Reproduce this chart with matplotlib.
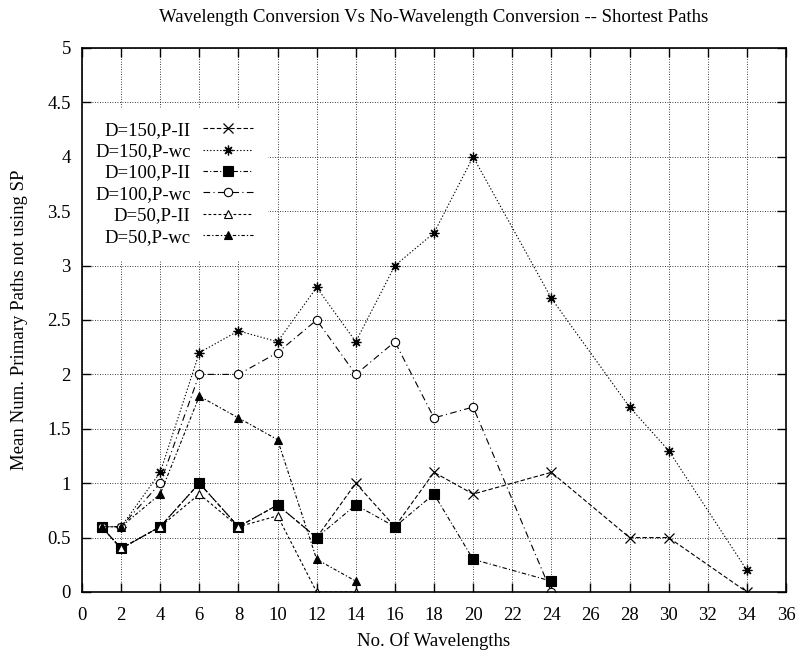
import matplotlib
matplotlib.use("Agg")
import matplotlib.pyplot as plt

plt.rcParams["font.family"] = ["Liberation Serif", "DejaVu Serif"]

# number of wavelengths per series
x_150 = [1, 2, 4, 6, 8, 10, 12, 14, 16, 18, 20, 24, 28, 30, 34]
x_100 = [1, 2, 4, 6, 8, 10, 12, 14, 16, 18, 20, 24]
x_50 = [1, 2, 4, 6, 8, 10, 12, 14]

# mean number of primary paths not using the shortest path
d150_pii = [0.6, 0.4, 0.6, 1.0, 0.6, 0.8, 0.5, 1.0, 0.6, 1.1, 0.9, 1.1, 0.5, 0.5, 0.0]
d150_pwc = [0.6, 0.6, 1.1, 2.2, 2.4, 2.3, 2.8, 2.3, 3.0, 3.3, 4.0, 2.7, 1.7, 1.3, 0.2]
d100_pii = [0.6, 0.4, 0.6, 1.0, 0.6, 0.8, 0.5, 0.8, 0.6, 0.9, 0.3, 0.1]
d100_pwc = [0.6, 0.6, 1.0, 2.0, 2.0, 2.2, 2.5, 2.0, 2.3, 1.6, 1.7, 0.0]
d50_pii = [0.6, 0.4, 0.6, 0.9, 0.6, 0.7, 0.0, 0.0]
d50_pwc = [0.6, 0.6, 0.9, 1.8, 1.6, 1.4, 0.3, 0.1]

labels = ["D=150,P-II", "D=150,P-wc", "D=100,P-II",
          "D=100,P-wc", "D=50,P-II", "D=50,P-wc"]

fig = plt.figure(figsize=(7.99, 6.61), dpi=100)
ax = fig.add_axes([82 / 799, 1 - 592 / 661, 704 / 799, 544 / 661])

lw = 0.8
ax.plot(x_150, d150_pii, color="black", lw=lw, linestyle=(0, (4, 2)),
        marker="x", ms=6.5, mew=0.9, label=labels[0])
ax.plot(x_150, d150_pwc, color="black", lw=lw, linestyle=(0, (1.2, 1.8)),
        marker=(8, 2, 0), ms=7, mew=0.9, label=labels[1])
ax.plot(x_100, d100_pii, color="black", lw=lw, linestyle=(0, (4, 2, 1, 2)),
        marker="s", ms=6.5, mew=0.8, label=labels[2])
ax.plot(x_100, d100_pwc, color="black", lw=lw, linestyle=(0, (6, 3, 1, 3)),
        marker="o", ms=6, mew=0.8, mfc="white", label=labels[3])
ax.plot(x_50, d50_pii, color="black", lw=lw, linestyle=(0, (2.5, 2)),
        marker="^", ms=6, mew=0.8, mfc="white", label=labels[4])
ax.plot(x_50, d50_pwc, color="black", lw=lw, linestyle=(0, (1.2, 1.8, 3, 1.8)),
        marker="^", ms=6, mew=0.8, label=labels[5])

ax.set_xlim(0, 36)
ax.set_ylim(0, 5)
ax.set_xticks(range(0, 37, 2))
ax.set_yticks([0, 0.5, 1, 1.5, 2, 2.5, 3, 3.5, 4, 4.5, 5])
ax.set_yticklabels(["0", "0.5", "1", "1.5", "2", "2.5", "3", "3.5", "4", "4.5", "5"])
ax.tick_params(direction="in", length=6.5, width=1, top=True, right=True,
               labelsize=13.5, pad=8)
ax.tick_params(axis="x", pad=11)
ax.grid(True, color="black", linestyle=(0, (1, 2)), linewidth=0.6)
ax.set_axisbelow(True)
for s in ax.spines.values():
    s.set_linewidth(1.2)

ax.set_title("Wavelength Conversion Vs No-Wavelength Conversion -- Shortest Paths",
             fontsize=13.5, pad=19)
ax.set_xlabel("No. Of Wavelengths", fontsize=13.5, labelpad=6)
ax.set_ylabel("Mean Num. Primary Paths not using SP", fontsize=13.5, labelpad=14)

leg = ax.legend(loc="upper left", bbox_to_anchor=(0.0, 0.889), markerfirst=False,
                fontsize=13.5, handlelength=2.7, handletextpad=0.65,
                labelspacing=0.23, borderpad=0.7, borderaxespad=0.0,
                frameon=True, fancybox=False, framealpha=1.0,
                edgecolor="white", facecolor="white")
leg.set_zorder(2.2)

fig.savefig("out.png", dpi=100)
